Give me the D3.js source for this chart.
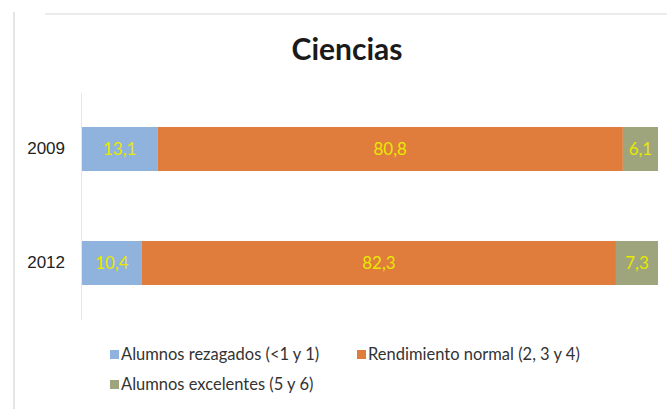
<!DOCTYPE html>
<html>
<head>
<meta charset="utf-8">
<script src="https://cdn.jsdelivr.net/npm/d3@7"></script>
<style>
  body { margin: 0; background: #fff; }
  svg { display: block; font-family: Lato, "Open Sans", sans-serif; }
</style>
</head>
<body>
<svg id="chart"></svg>
<script>
var width = 667, height = 409;

// data
var years = ["2009", "2012"];
var seriesNames = ["Alumnos rezagados (<1 y 1)", "Rendimiento normal (2, 3 y 4)", "Alumnos excelentes (5 y 6)"];
var rezagados = [13.1, 10.4];
var normal = [80.8, 82.3];
var excelentes = [6.1, 7.3];
var colors = ["#8fb3dc", "#e07c3c", "#9ea57c"];

var rows = years.map(function(y, i) {
    return { year: y, rezagados: rezagados[i], normal: normal[i], excelentes: excelentes[i] };
});
var keys = ["rezagados", "normal", "excelentes"];
var stacked = d3.stack().keys(keys)(rows);

var svg = d3.select("#chart")
    .attr("width", width)
    .attr("height", height);

// frame lines
svg.append("line")
    .attr("x1", 14).attr("x2", 14).attr("y1", 12).attr("y2", height)
    .attr("stroke", "#dcdcdc").attr("stroke-width", 1.5);
svg.append("line")
    .attr("x1", 45).attr("x2", width).attr("y1", 14).attr("y2", 14)
    .attr("stroke", "#e4e4e4").attr("stroke-width", 1.5);

// title
svg.append("text")
    .attr("x", 347).attr("y", 60)
    .attr("text-anchor", "middle")
    .attr("font-size", 30).attr("font-weight", "bold")
    .attr("fill", "#1a1a1a")
    .text("Ciencias");

var x = d3.scaleLinear().domain([0, 100]).range([82, 658]);
var y = d3.scaleBand().domain(years).range([92.8, 319.2]).paddingInner(0.614).paddingOuter(0.3);

// category axis
var yAxis = svg.append("g")
    .attr("transform", "translate(81,0)")
    .call(d3.axisLeft(y).tickSize(0).tickPadding(16));
yAxis.select(".domain").attr("stroke", "#e6e6e6");
yAxis.selectAll("text").attr("font-size", 17).attr("fill", "#222");

var layers = svg.append("g").selectAll("g")
    .data(stacked)
    .enter().append("g")
    .attr("fill", function(d, i) { return colors[i]; });

layers.selectAll("rect")
    .data(function(d) { return d; })
    .enter().append("rect")
    .attr("x", function(d) { return x(d[0]); })
    .attr("y", function(d) { return y(d.data.year); })
    .attr("width", function(d) { return x(d[1]) - x(d[0]); })
    .attr("height", y.bandwidth());

layers.selectAll("text")
    .data(function(d) { return d.map(function(v) { return { v: v, key: d.key }; }); })
    .enter().append("text")
    .attr("x", function(d) { return (x(d.v[0]) + x(d.v[1])) / 2; })
    .attr("y", function(d) { return y(d.v.data.year) + y.bandwidth() / 2 + 6; })
    .attr("text-anchor", "middle")
    .attr("font-size", 17)
    .attr("fill", "#e8e800")
    .text(function(d) { return String(d.v.data[d.key]).replace(".", ","); });

// legend
var legendPos = [[110, 360], [357, 360], [110, 390]];
var legend = svg.append("g").selectAll("g")
    .data(seriesNames)
    .enter().append("g")
    .attr("transform", function(d, i) { return "translate(" + legendPos[i][0] + "," + legendPos[i][1] + ")"; });
legend.append("rect")
    .attr("x", 0).attr("y", -10)
    .attr("width", 9).attr("height", 9)
    .attr("fill", function(d, i) { return colors[i]; });
legend.append("text")
    .attr("x", 11).attr("y", 0)
    .attr("font-size", 16.5)
    .attr("fill", "#333")
    .text(function(d) { return d; });
</script>
</body>
</html>
